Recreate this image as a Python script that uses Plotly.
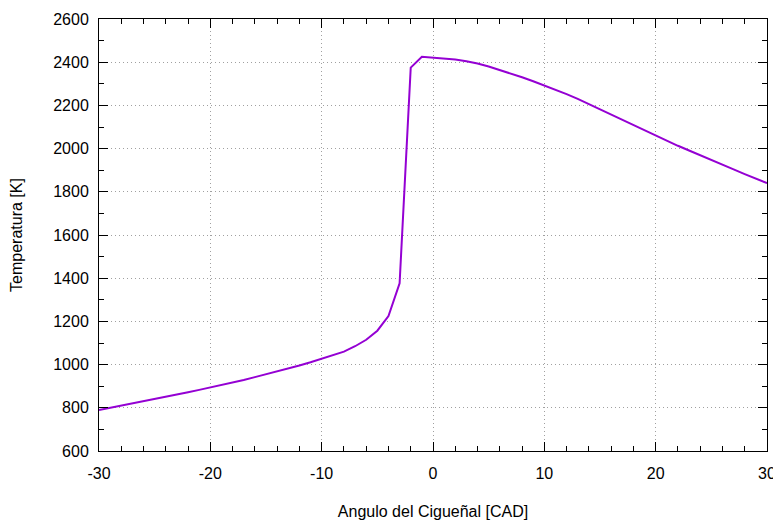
import plotly.graph_objects as go

angle = list(range(-30, 31))
temperature = [
    790, 800, 809, 819, 829, 839, 850, 861, 872, 883,
    894, 905, 917, 929, 942, 955, 968, 982, 996, 1011,
    1028, 1043, 1060, 1085, 1115, 1157, 1225, 1376, 2375, 2425,
    2421, 2418, 2412, 2404, 2394, 2380, 2364, 2346, 2330, 2312,
    2293, 2273, 2252, 2230, 2206, 2181, 2157, 2133, 2109, 2084,
    2059, 2036, 2013, 1991, 1970, 1948, 1926, 1904, 1882, 1861,
    1840,
]
x_ticks = [-30, -20, -10, 0, 10, 20, 30]
x_labels = ["-30", "-20", "-10", "0", "10", "20", "30"]
y_ticks = [600, 800, 1000, 1200, 1400, 1600, 1800, 2000, 2200, 2400, 2600]

fig = go.Figure()
fig.add_trace(go.Scatter(x=angle, y=temperature, mode="lines",
                         line=dict(color="#9400D3", width=2), showlegend=False))

font = dict(family="Liberation Sans, Arial, sans-serif", size=16, color="black")
axis_common = dict(
    showline=True, linecolor="black", linewidth=1, mirror="allticks",
    ticks="inside", ticklen=9, tickcolor="black", tickwidth=1,
    showgrid=True, gridcolor="#a0a0a0", griddash="1px,3px", gridwidth=1,
    zeroline=False, tickfont=font,
)
fig.update_xaxes(range=[-30, 30], tickvals=x_ticks, ticktext=x_labels,
                 minor=dict(dtick=2, ticks="inside", ticklen=5, tickcolor="black", showgrid=False),
                 title=dict(text="Angulo del Cigueñal [CAD]", font=font, standoff=30),
                 ticklabelstandoff=8, **axis_common)
fig.update_yaxes(range=[600, 2600], tickvals=y_ticks,
                 minor=dict(dtick=100, ticks="inside", ticklen=5, tickcolor="black", showgrid=False),
                 title=dict(text="Temperatura [K]", font=font, standoff=26),
                 ticklabelstandoff=6, **axis_common)
# page body has an 8px margin, so the figure is sized to fit the 781x520 window
fig.update_layout(width=773, height=512, plot_bgcolor="white", paper_bgcolor="white",
                  margin=dict(l=91, r=14, t=11, b=69, autoexpand=False), font=font)
fig.write_html("out.html")
